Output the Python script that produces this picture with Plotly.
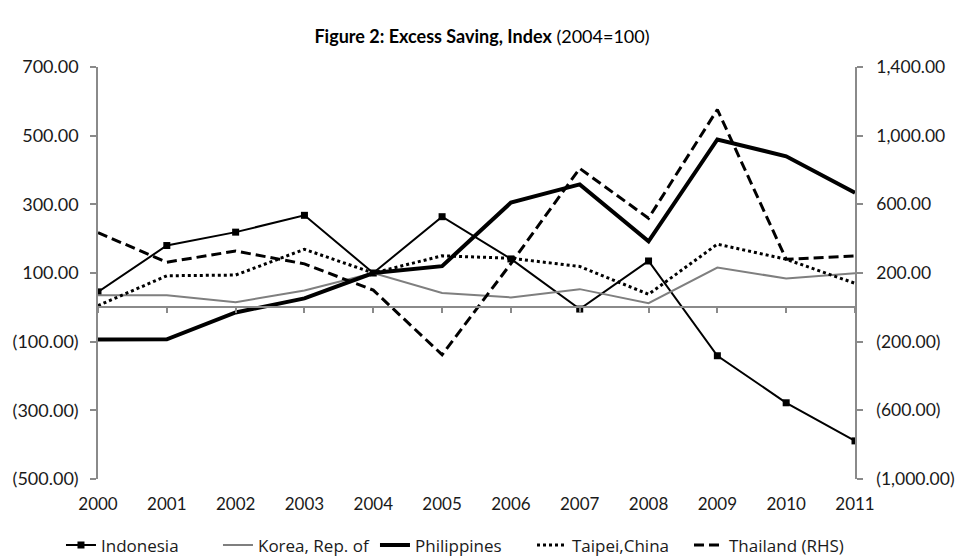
import plotly.graph_objects as go

years = [2000, 2001, 2002, 2003, 2004, 2005, 2006, 2007, 2008, 2009, 2010, 2011]

indonesia = [45, 180, 219, 268, 100, 264, 141, -5, 135, -141, -278, -389]
korea = [35, 35, 15, 49, 100, 42, 29, 53, 12, 116, 84, 99]
philippines = [-94, -93, -15, 26, 100, 120, 305, 358, 192, 489, 440, 334]
taipei = [5, 92, 94, 169, 100, 150, 143, 119, 38, 184, 140, 70]
thailand_rhs = [435, 263, 328, 253, 100, -276, 255, 809, 519, 1152, 280, 299]

left_ticks = [700, 500, 300, 100, -100, -300, -500]
left_labels = ["700.00", "500.00", "300.00", "100.00", "(100.00)", "(300.00)", "(500.00)"]
right_ticks = [1400, 1000, 600, 200, -200, -600, -1000]
right_labels = ["1,400.00", "1,000.00", "600.00", "200.00", "(200.00)", "(600.00)", "(1,000.00)"]
year_labels = [str(y) for y in years]

LEFT_RANGE = [-500, 700]
RIGHT_RANGE = [-1000, 1400]
AXIS_GREY = "#8a8a8a"
FONT = "Lato"

fig = go.Figure()

fig.add_trace(go.Scatter(
    x=years, y=indonesia, name="Indonesia", mode="lines+markers",
    line=dict(color="black", width=2), marker=dict(symbol="square", size=7, color="black")))
fig.add_trace(go.Scatter(
    x=years, y=korea, name="Korea, Rep. of", mode="lines",
    line=dict(color="#7f7f7f", width=2)))
fig.add_trace(go.Scatter(
    x=years, y=philippines, name="Philippines", mode="lines",
    line=dict(color="black", width=4)))
fig.add_trace(go.Scatter(
    x=years, y=taipei, name="Taipei,China", mode="lines",
    line=dict(color="black", width=3, dash="dot")))
fig.add_trace(go.Scatter(
    x=years, y=thailand_rhs, name="Thailand (RHS)", mode="lines", yaxis="y2",
    line=dict(color="black", width=3, dash="10px,5px")))
# carrier for the zero-line axis
fig.add_trace(go.Scatter(
    x=[years[0], years[-1]], y=[None, None], xaxis="x2", mode="lines",
    showlegend=False, hoverinfo="skip"))

zero_pos = (0 - LEFT_RANGE[0]) / (LEFT_RANGE[1] - LEFT_RANGE[0])

fig.update_layout(
    width=964, height=558,
    margin=dict(l=90, r=117, t=59, b=87, autoexpand=False),
    paper_bgcolor="white", plot_bgcolor="white",
    font=dict(family=FONT, size=17, color="#1a1a1a"),
    title=dict(
        text="<b>Figure 2: Excess Saving, Index</b> (2004=100)",
        x=474 / 964, xanchor="center", xref="container", y=1 - 29 / 558, yanchor="middle",
        font=dict(family=FONT, size=18, color="black")),
    showlegend=True,
    legend=dict(orientation="h", x=-0.0489, xanchor="left", xref="paper",
                y=-0.161, yanchor="middle", yref="paper",
                font=dict(family="Open Sans", size=17), itemwidth=30,
                entrywidth=112, entrywidthmode="pixels", tracegroupgap=0),
    xaxis=dict(range=[years[0], years[-1]], tickvals=years, ticktext=year_labels,
               showline=False, showgrid=False, zeroline=False, ticks="",
               ticklabelstandoff=13, automargin=False,
               tickfont=dict(size=17)),
    xaxis2=dict(range=[years[0], years[-1]], overlaying="x", anchor="free",
                position=zero_pos, side="bottom", tickvals=years, showticklabels=False,
                showline=True, linecolor=AXIS_GREY, linewidth=1.5,
                ticks="outside", ticklen=5, tickcolor=AXIS_GREY, tickwidth=1.5,
                showgrid=False, zeroline=False, automargin=False),
    yaxis=dict(range=LEFT_RANGE, tickvals=left_ticks, ticktext=left_labels,
               showline=True, linecolor=AXIS_GREY, linewidth=1.5,
               ticks="outside", ticklen=6, tickcolor=AXIS_GREY, tickwidth=1.5,
               ticklabelstandoff=8, automargin=False,
               showgrid=False, zeroline=False, tickfont=dict(size=18)),
    yaxis2=dict(range=RIGHT_RANGE, tickvals=right_ticks, ticktext=right_labels,
                overlaying="y", side="right",
                showline=True, linecolor=AXIS_GREY, linewidth=1.5,
                ticks="outside", ticklen=6, tickcolor=AXIS_GREY, tickwidth=1.5,
                ticklabelstandoff=10, automargin=False,
                showgrid=False, zeroline=False, tickfont=dict(size=17.5)),
)

fig.write_html("out.html")
